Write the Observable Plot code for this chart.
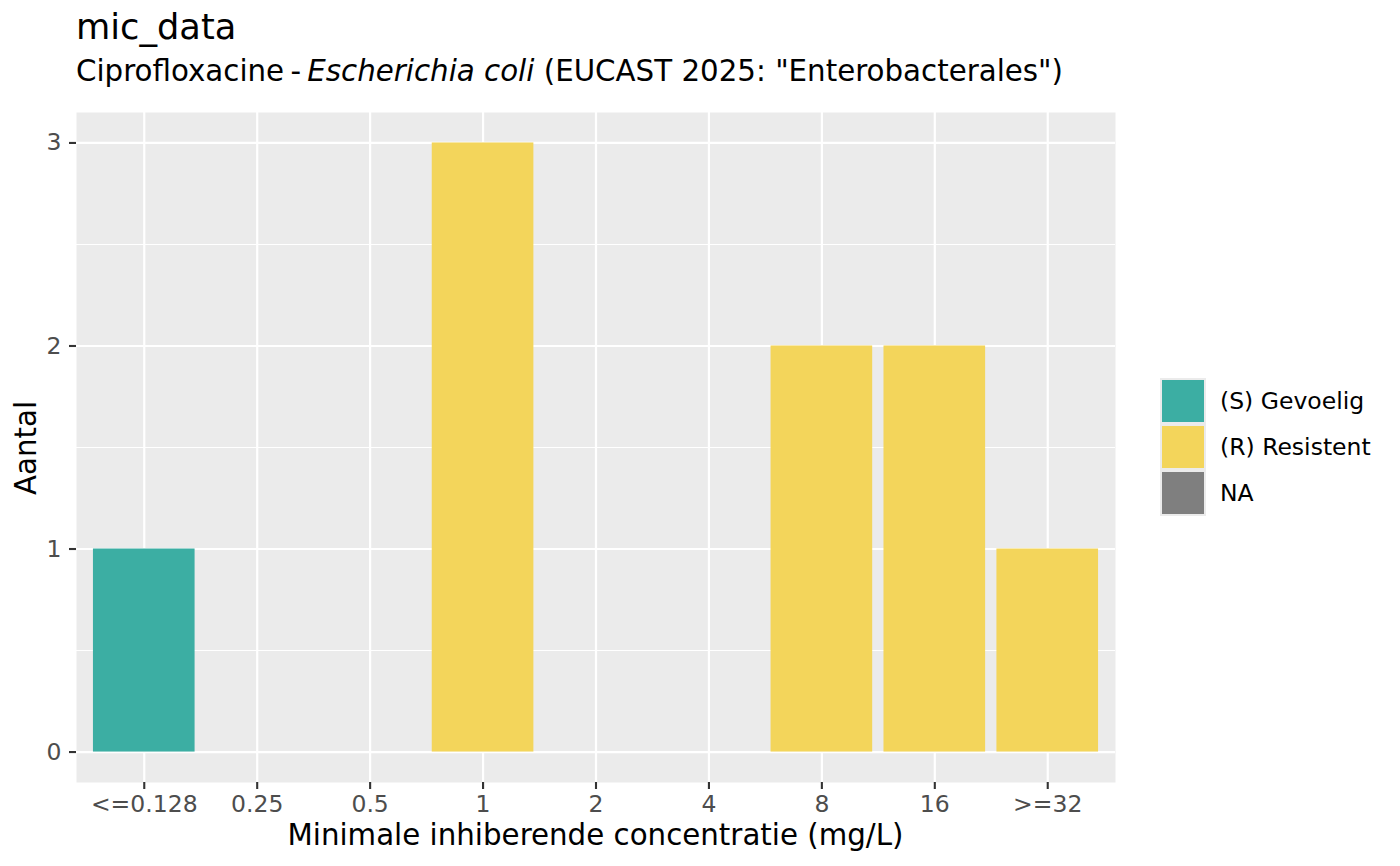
<!DOCTYPE html>
<html>
<head>
<meta charset="utf-8">
<script src="https://cdn.jsdelivr.net/npm/d3@7"></script>
<script src="https://cdn.jsdelivr.net/npm/@observablehq/plot@0.6"></script>
<style>
  html, body { margin: 0; padding: 0; background: #fff; }
  body { width: 1400px; height: 866px; position: relative; overflow: hidden; font-family: "DejaVu Sans", sans-serif; }
  .t { position: absolute; white-space: nowrap; color: #000; line-height: normal; }
  #chart { position: absolute; left: 0; top: 0; }
</style>
</head>
<body>
<div class="t" id="title" style="left:76px; top:6.3px; font-size:35.2px;">mic_data</div>
<div class="t" id="subtitle" style="left:76px; top:53.8px; font-size:29.3px;">Ciprofloxacine<span style="word-spacing:-3px;"> - </span><i>Escherichia coli</i> (EUCAST 2025: "Enterobacterales")</div>
<div id="chart"></div>
<div class="t" id="xtitle" style="left:595.5px; top:817.8px; font-size:29.3px; transform:translateX(-50%);">Minimale inhiberende concentratie (mg/L)</div>
<div class="t" id="ytitle" style="left:25.8px; top:447.5px; font-size:29.3px; transform:translate(-50%,-50%) rotate(-90deg);">Aantal</div>
<div id="legend"></div>
<script>
// Data
const micCategories = ["<=0.128", "0.25", "0.5", "1", "2", "4", "8", "16", ">=32"];
const micCounts = [1, 0, 0, 3, 0, 0, 2, 2, 1];
const micInterpretation = ["(S) Gevoelig", null, null, "(R) Resistent", null, null, "(R) Resistent", "(R) Resistent", "(R) Resistent"];
const legendLabels = ["(S) Gevoelig", "(R) Resistent", "NA"];
const legendColors = ["#3CAEA3", "#F3D55B", "#7F7F7F"];
const yMajorTicks = [0, 1, 2, 3];
const yMinorTicks = [0.5, 1.5, 2.5];

const rows = micCategories.map((c, i) => ({mic: c, count: micCounts[i], interp: micInterpretation[i]}))
  .filter(d => d.count > 0);

const plot = Plot.plot({
  width: 1400,
  height: 866,
  marginLeft: 76,
  marginRight: 285,
  marginTop: 112,
  marginBottom: 84,
  style: {fontFamily: "DejaVu Sans, sans-serif", background: "transparent"},
  x: {type: "band", domain: micCategories, paddingInner: 0.1, paddingOuter: 0.15, align: 0.5, round: false, label: null},
  y: {domain: [-0.15, 3.15], label: null},
  color: {domain: legendLabels, range: legendColors},
  marks: [
    Plot.frame({fill: "#EBEBEB", stroke: null}),
    Plot.gridY(yMinorTicks, {stroke: "#fff", strokeOpacity: 1, strokeWidth: 1.1}),
    Plot.gridY(yMajorTicks, {stroke: "#fff", strokeOpacity: 1, strokeWidth: 2.2}),
    Plot.gridX(micCategories, {stroke: "#fff", strokeOpacity: 1, strokeWidth: 2.2}),
    Plot.barY(rows, {x: "mic", y1: 0, y2: "count", fill: "interp"}),
    Plot.axisX(micCategories, {tickSize: 7, tickPadding: 6.3, fontSize: 23.5, stroke: "#333333", strokeWidth: 2.1, color: "#4D4D4D", label: null}),
    Plot.axisY(yMajorTicks, {tickSize: 7, tickPadding: 8, fontSize: 23.5, stroke: "#333333", strokeWidth: 2.1, color: "#4D4D4D", label: null, tickFormat: d => String(d)})
  ]
});
document.getElementById("chart").appendChild(plot);

// Legend
const leg = document.getElementById("legend");
legendLabels.forEach((lab, i) => {
  const top = 378 + i * 46;
  const key = document.createElement("div");
  key.style.cssText = `position:absolute; left:1160px; top:${top}px; width:46px; height:46px; background:#EBEBEB;`;
  const inner = document.createElement("div");
  inner.style.cssText = `position:absolute; left:2px; top:2px; width:42px; height:42px; background:${legendColors[i]};`;
  key.appendChild(inner);
  leg.appendChild(key);
  const txt = document.createElement("div");
  txt.className = "t";
  txt.textContent = lab;
  txt.style.cssText = `left:1220px; top:${top + 23}px; font-size:23.5px; transform:translateY(-50%); color:#000;`;
  leg.appendChild(txt);
});
</script>
</body>
</html>
